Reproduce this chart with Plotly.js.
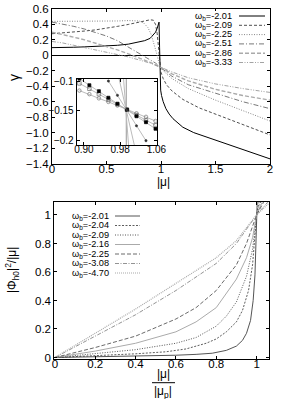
<!DOCTYPE html>
<html><head><meta charset="utf-8">
<script src="https://cdn.plot.ly/plotly-3.0.1.min.js"></script>
<style>html,body{margin:0;padding:0;background:#fff}#chart{width:287px;height:399px}</style>
</head><body><div id="chart"></div>
<script>
// ---------- top panel: gamma vs |mu| ----------
var topLabels = ["-2.01","-2.09","-2.25","-2.51","-2.86","-3.33"];
var mu201 = [0,0.1,0.2,0.3,0.4,0.5,0.6,0.7,0.8,0.85,0.9,0.93,0.95,0.965,0.975,0.982,0.987,0.99,0.993,0.997,1.005,1.02,1.045,1.075,1.11,1.2,1.3,1.5,1.7,2.0];
var g201  = [0.10,0.10,0.105,0.11,0.115,0.12,0.13,0.145,0.17,0.19,0.22,0.26,0.30,0.35,0.40,0.43,0.10,-0.15,-0.35,-0.45,-0.52,-0.60,-0.69,-0.76,-0.82,-0.93,-1.00,-1.10,-1.20,-1.34];
var mu209 = [0,0.1,0.2,0.3,0.4,0.5,0.6,0.7,0.8,0.86,0.9,0.93,0.95,0.965,0.978,0.99,1.0,1.02,1.05,1.1,1.2,1.35,1.5,1.75,2.0];
var g209  = [0.28,0.29,0.30,0.315,0.33,0.35,0.375,0.40,0.43,0.45,0.46,0.455,0.40,0.28,0.08,-0.15,-0.22,-0.30,-0.38,-0.46,-0.57,-0.68,-0.76,-0.90,-1.03];
var mu225 = [0,0.1,0.2,0.3,0.4,0.5,0.6,0.7,0.75,0.8,0.84,0.88,0.91,0.94,0.965,0.99,1.02,1.05,1.1,1.25,1.5,1.75,2.0];
var g225  = [0.44,0.44,0.44,0.44,0.44,0.44,0.445,0.45,0.45,0.445,0.42,0.36,0.27,0.13,0.0,-0.15,-0.20,-0.24,-0.30,-0.43,-0.58,-0.72,-0.85];
var mu251 = [0,0.1,0.2,0.3,0.4,0.5,0.6,0.7,0.8,0.9,0.95,0.99,1.05,1.1,1.25,1.5,1.75,2.0];
var g251  = [0.43,0.405,0.375,0.34,0.30,0.25,0.19,0.11,0.02,-0.06,-0.10,-0.15,-0.22,-0.27,-0.38,-0.49,-0.60,-0.69];
var mu286 = [0,0.1,0.2,0.3,0.4,0.5,0.6,0.7,0.8,0.9,0.99,1.05,1.1,1.25,1.5,1.75,2.0];
var g286  = [0.30,0.27,0.235,0.20,0.16,0.115,0.07,0.02,-0.03,-0.09,-0.15,-0.20,-0.24,-0.33,-0.44,-0.52,-0.58];
var mu333 = [0,0.1,0.2,0.3,0.4,0.5,0.6,0.7,0.8,0.9,0.99,1.05,1.1,1.25,1.5,1.75,2.0];
var g333  = [0.18,0.16,0.13,0.10,0.07,0.04,0.01,-0.02,-0.06,-0.10,-0.15,-0.185,-0.215,-0.29,-0.37,-0.43,-0.48];
var topXTicks = [0,0.5,1,1.5,2];
var topYTicks = [0.6,0.4,0.2,0,-0.2,-0.4,-0.6,-0.8,-1.0,-1.2,-1.4];
var topYText  = ["0.6","0.4","0.2","0","\u22120.2","\u22120.4","\u22120.6","\u22120.8","\u22121.0","\u22121.2","\u22121.4"];

// ---------- inset ----------
var inMu   = [0.890,0.912,0.933,0.954,0.974,0.995,1.016,1.037,1.058];
var inCirc = [-0.116,-0.122,-0.129,-0.135,-0.141,-0.148,-0.154,-0.160,-0.167];
var inOSq  = [-0.104,-0.113,-0.122,-0.131,-0.139,-0.148,-0.157,-0.166,-0.174];
var inFSq  = [-0.096,-0.107,-0.117,-0.128,-0.138,-0.148,-0.159,-0.169,-0.180];
var inDotMu = [0.954,0.974,0.995,1.016,1.037];
var inDot   = [-0.100,-0.124,-0.149,-0.175,-0.200];
var inSteep1Mu = [0.9777,1.0112];
var inSteep1   = [-0.0966,-0.2072];
var inSteep2Mu = [0.9875,0.9985];
var inSteep2   = [-0.0966,-0.2072];
var inVertMu = [0.9935,0.9935];
var inVert   = [-0.0966,-0.2072];
var inXTicks = [0.90,0.98,1.06];
var inXText  = ["0.90","0.98","1.06"];
var inYTicks = [-0.1,-0.15,-0.2];
var inYText  = ["\u22120.1","\u22120.15","\u22120.2"];

// ---------- bottom panel ----------
var botLabels = ["-2.01","-2.04","-2.09","-2.16","-2.25","-3.08","-4.70"];
var r201 = [0,0.2,0.4,0.6,0.7,0.78,0.85,0.9,0.93,0.95,0.97,0.983,0.992,0.997,1.0,1.003];
var p201 = [0,0.004,0.009,0.016,0.022,0.03,0.05,0.08,0.12,0.17,0.26,0.40,0.58,0.78,1.0,1.09];
var r204 = [0,0.2,0.4,0.55,0.65,0.75,0.8,0.85,0.9,0.93,0.96,0.98,1.0,1.012];
var p204 = [0,0.012,0.026,0.04,0.06,0.10,0.13,0.18,0.25,0.33,0.47,0.65,1.0,1.09];
var r209 = [0,0.2,0.4,0.6,0.7,0.8,0.85,0.9,0.95,0.98,1.0,1.02];
var p209 = [0,0.025,0.055,0.10,0.14,0.22,0.29,0.39,0.57,0.76,1.0,1.09];
var r216 = [0,0.2,0.4,0.6,0.7,0.8,0.9,0.95,0.98,1.0,1.028];
var p216 = [0,0.045,0.10,0.18,0.25,0.35,0.55,0.70,0.84,1.0,1.09];
var r225 = [0,0.2,0.4,0.6,0.7,0.8,0.9,0.95,1.0,1.035];
var p225 = [0,0.07,0.15,0.27,0.35,0.47,0.65,0.80,1.0,1.09];
var r308 = [0,0.2,0.4,0.6,0.8,0.9,1.0,1.055];
var p308 = [0,0.15,0.30,0.47,0.66,0.80,1.0,1.09];
var r470 = [0,0.2,0.4,0.6,0.8,0.9,1.0,1.063];
var p470 = [0,0.17,0.34,0.52,0.70,0.82,1.0,1.085];
var botTicks = [0,0.2,0.4,0.6,0.8,1];

var F = "Liberation Sans, Arial, Helvetica, sans-serif";
var W = 287, H = 399;
function px(x){return x/W;}
function py(y){return 1-y/H;}

var topStyles = [
  {c:"#000", d:"solid", w:1},
  {c:"#222", d:"3px,2px", w:0.8},
  {c:"#888", d:"1px,1.5px", w:1},
  {c:"#555", d:"5px,2px,1px,2px", w:0.8},
  {c:"#aaa", d:"4px,2px", w:1.4},
  {c:"#999", d:"4px,1.5px,1px,1.5px,1px,1.5px", w:0.9}
];
var botStyles = [
  {c:"#555", d:"solid", w:1},
  {c:"#333", d:"2px,1.5px", w:0.8},
  {c:"#444", d:"1px,1.5px", w:0.9},
  {c:"#aaa", d:"solid", w:1},
  {c:"#444", d:"4px,2px", w:0.8},
  {c:"#777", d:"4px,1.5px,1px,1.5px", w:0.8},
  {c:"#aaa", d:"1px,1px", w:1.2}
];

function ln(x,y,xa,ya,s){
  return {x:x,y:y,xaxis:xa,yaxis:ya,type:"scatter",mode:"lines",
    line:{color:s.c,dash:s.d,width:s.w},showlegend:false,hoverinfo:"skip"};
}
var topX = [mu201,mu209,mu225,mu251,mu286,mu333];
var topY = [g201,g209,g225,g251,g286,g333];
var botX = [r201,r204,r209,r216,r225,r308,r470];
var botY = [p201,p204,p209,p216,p225,p308,p470];

var traces = [];
for (var i=0;i<topX.length;i++) traces.push(ln(topX[i],topY[i],"x","y",topStyles[i]));
for (var j=0;j<botX.length;j++) traces.push(ln(botX[j],botY[j],"x2","y2",botStyles[j]));

function ins(x,y,col,w,sym,msz,mcol){
  var t={x:x,y:y,xaxis:"x3",yaxis:"y3",type:"scatter",mode:sym?"lines+markers":"lines",
    line:{color:col,width:w},showlegend:false,hoverinfo:"skip"};
  if(sym) t.marker={symbol:sym,size:msz,color:mcol,line:{color:mcol,width:0.7}};
  return t;
}
traces.push(ins(inVertMu,inVert,"#999",1));
traces.push(ins(inSteep2Mu,inSteep2,"#bbb",1));
traces.push(ins(inSteep1Mu,inSteep1,"#bbb",1));
traces.push(ins(inMu,inCirc,"#aaa",0.8,"circle-open",3.5,"#777"));
traces.push(ins(inMu,inOSq,"#aaa",0.8,"square-open",3.5,"#666"));
traces.push(ins(inMu,inFSq,"#aaa",0.8,"square",3,"#000"));
traces.push(ins(inDotMu,inDot,"#aaa",0.8,"circle",2.2,"#333"));

var axBase = {showline:true,linecolor:"#000",linewidth:1,mirror:"ticks",ticks:"inside",
  ticklen:3,tickcolor:"#000",tickwidth:1,showgrid:false,zeroline:false,
  tickfont:{family:F,size:11.5,color:"#000"}};
function ax(o){var r=JSON.parse(JSON.stringify(axBase));for(var k in o)r[k]=o[k];return r;}

var shapes = [];
var ann = [];
function txt(x,y,t,sz,xa,rot){
  var o={xref:"paper",yref:"paper",x:px(x),y:py(y),text:t,showarrow:false,
    xanchor:xa||"center",yanchor:"middle",font:{family:F,size:sz,color:"#000"}};
  if(rot) o.textangle=rot;
  return o;
}
shapes.push({type:"rect",xref:"paper",yref:"paper",x0:px(190),x1:px(267),y0:py(67),y1:py(11),
  fillcolor:"#fff",line:{width:0},layer:"above"});
var topRows = [16,25.3,34.6,43.9,53.2,62.5];
for (var a=0;a<topLabels.length;a++){
  ann.push(txt(234,topRows[a],"\u03c9<sub>b</sub>="+topLabels[a],9.2,"right"));
  var s=topStyles[a];
  shapes.push({type:"line",xref:"paper",yref:"paper",x0:px(239),x1:px(265),y0:py(topRows[a]),y1:py(topRows[a]),
    line:{color:s.c,dash:s.d,width:s.w},layer:"above"});
}
var botRows = [216,225.5,235,244.5,254,263.5,273];
for (var b=0;b<botLabels.length;b++){
  ann.push(txt(111,botRows[b],"\u03c9<sub>b</sub>="+botLabels[b],9.2,"right"));
  var t=botStyles[b];
  shapes.push({type:"line",xref:"paper",yref:"paper",x0:px(115),x1:px(140),y0:py(botRows[b]),y1:py(botRows[b]),
    line:{color:t.c,dash:t.d,width:t.w},layer:"above"});
}
ann.push(txt(14,78,"\u03b3",14,"center",-90));
ann.push(txt(163,182,"|\u03bc|",12));
ann.push(txt(12,270,"|\u03a6<sub>h0</sub>|<sup>2</sup>/|\u03bc|",12,"center",-90));
ann.push(txt(163,374,"|\u03bc|",12));
ann.push(txt(163,391.5,"|\u03bc<sub>p</sub>|",12));
shapes.push({type:"line",xref:"paper",yref:"paper",x0:px(152),x1:px(175),y0:py(382.7),y1:py(382.7),
  line:{color:"#000",width:1}});

var layout = {
  width:W,height:H,autosize:false,margin:{l:0,r:0,t:0,b:0},
  paper_bgcolor:"#fff",plot_bgcolor:"#fff",showlegend:false,
  xaxis: ax({domain:[px(52),px(270)],range:[0,2],anchor:"y",tickvals:topXTicks,ticklabelstandoff:-5}),
  yaxis: ax({domain:[py(163.5),py(9)],range:[-1.4,0.6],anchor:"x",tickvals:topYTicks,ticktext:topYText,
    zeroline:true,zerolinecolor:"#000",zerolinewidth:1}),
  xaxis2: ax({domain:[px(54.3),px(269.3)],range:[-0.003,1.063],anchor:"y2",tickvals:botTicks,ticklabelstandoff:-5}),
  yaxis2: ax({domain:[py(358.5),py(201.7)],range:[-0.007,1.093],anchor:"x2",tickvals:botTicks}),
  xaxis3: ax({domain:[px(76.7),px(157.3)],range:[0.884,1.062],anchor:"y3",tickvals:inXTicks,ticktext:inXText,
    tickfont:{family:F,size:10,color:"#000"},ticklabelstandoff:-5}),
  yaxis3: ax({domain:[py(145),py(79)],range:[-0.2072,-0.0966],anchor:"x3",tickvals:inYTicks,ticktext:inYText,
    tickfont:{family:F,size:10,color:"#000"}}),
  shapes:shapes,annotations:ann
};
Plotly.newPlot("chart",traces,layout,{displayModeBar:false,staticPlot:true});
</script></body></html>
